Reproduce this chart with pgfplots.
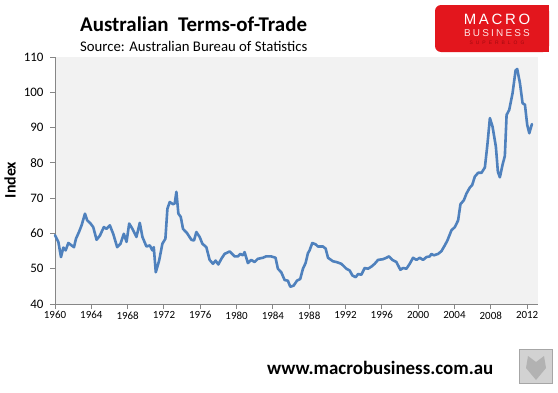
\documentclass[border=0pt]{standalone}
\usepackage{fontspec}
\setmainfont{Carlito}
\newfontfamily\logofont{Liberation Sans}
\usepackage{pgfplots}
\pgfplotsset{compat=1.18}
\definecolor{excelblue}{HTML}{4F81BD}
\definecolor{plotbg}{HTML}{F2F2F2}
\definecolor{axgray}{HTML}{868686}
\definecolor{logored}{HTML}{E3161D}
\definecolor{logodark}{HTML}{A00A0F}

\begin{document}
\begin{tikzpicture}
\path[use as bounding box, fill=white] (0,0) rectangle (558bp,-393bp);

\begin{axis}[
  at={(55bp,-304bp)}, anchor=south west,
  width=483bp, height=247bp, scale only axis,
  xmin=1960, xmax=2013.2, ymin=40, ymax=110,
  axis background/.style={fill=plotbg, draw=none},
  axis x line*=bottom, axis y line*=left,
  axis line style={axgray, line width=0.9bp, -},
  xtick={1960,1964,...,2012}, ytick={40,50,...,110},
  tick style={axgray, line width=0.9bp},
  major tick length=5bp,
  tick align=outside,
  /pgf/number format/1000 sep={},
  /pgf/number format/assume math mode=true,
  x tick label style={font=\fontsize{11}{13}\selectfont, yshift=1bp},
  y tick label style={font=\fontsize{13}{15}\selectfont, xshift=-3bp},
  clip=false,
]
\addplot[excelblue, line width=2.6bp, line join=round, line cap=round] coordinates {
(1960.00,59.5) (1960.37,57.6) (1960.66,53.3) (1960.92,56.0) (1961.17,55.2)
(1961.47,57.3) (1961.83,56.6) (1962.09,56.1) (1962.31,58.5) (1962.64,60.4)
(1962.93,62.3) (1963.30,65.6) (1963.55,63.7) (1963.92,62.8) (1964.21,61.8)
(1964.58,58.2) (1964.95,59.4) (1965.38,61.8) (1965.68,61.3) (1966.04,62.3)
(1966.41,59.9) (1966.85,56.1) (1967.22,57.1) (1967.58,59.9) (1967.88,57.6)
(1968.17,62.8) (1968.53,61.3) (1968.97,59.0) (1969.34,63.0) (1969.63,59.0)
(1970.07,56.3) (1970.44,56.6) (1970.73,55.2) (1970.88,56.1) (1971.10,49.0)
(1971.47,52.3) (1971.83,57.1) (1972.16,58.5) (1972.38,67.0) (1972.64,68.9)
(1973.00,68.3) (1973.19,68.5) (1973.37,71.8) (1973.59,65.6) (1973.85,64.7)
(1974.10,61.3) (1974.54,60.1) (1975.02,58.2) (1975.31,58.0) (1975.57,60.4)
(1975.93,59.0) (1976.23,57.1) (1976.67,56.1) (1977.03,52.5) (1977.40,51.4)
(1977.69,52.3) (1977.99,51.2) (1978.32,52.8) (1978.68,54.2) (1979.23,54.9)
(1979.78,53.5) (1980.15,53.5) (1980.40,54.2) (1980.70,53.8) (1980.88,54.7)
(1981.25,51.6) (1981.61,52.5) (1981.98,51.9) (1982.34,52.8) (1982.89,53.1)
(1983.26,53.5) (1983.81,53.5) (1984.29,53.1) (1984.55,50.0) (1984.92,49.0)
(1985.29,46.8) (1985.65,46.6) (1985.91,44.9) (1986.28,45.2) (1986.65,46.6)
(1987.01,47.1) (1987.31,50.0) (1987.60,51.6) (1987.86,54.4) (1988.04,55.2)
(1988.34,57.3) (1988.71,56.9) (1988.96,56.3) (1989.51,56.3) (1989.81,55.7)
(1990.07,53.1) (1990.62,52.1) (1990.99,51.9) (1991.54,51.4) (1992.09,50.0)
(1992.46,49.5) (1992.75,48.1) (1993.12,47.6) (1993.38,48.5) (1993.74,48.3)
(1994.11,50.2) (1994.48,50.0) (1994.85,50.6) (1995.21,51.4) (1995.58,52.5)
(1996.13,52.7) (1996.50,53.1) (1996.79,53.5) (1997.16,52.5) (1997.60,51.9)
(1998.04,49.7) (1998.34,50.2) (1998.71,50.0) (1999.07,51.4) (1999.44,53.1)
(1999.81,52.5) (2000.18,53.1) (2000.54,52.5) (2000.91,53.3) (2001.28,53.5)
(2001.46,54.2) (2001.72,53.8) (2002.20,54.2) (2002.57,55.0) (2002.93,56.6)
(2003.22,58.0) (2003.67,60.9) (2004.04,61.8) (2004.40,63.7) (2004.66,68.3)
(2005.03,69.4) (2005.32,71.3) (2005.69,73.0) (2005.95,73.7) (2006.24,76.1)
(2006.61,77.2) (2006.98,77.2) (2007.35,78.7) (2007.64,85.5) (2007.90,92.7)
(2008.19,90.3) (2008.56,84.6) (2008.78,77.5) (2009.00,75.9) (2009.29,79.4)
(2009.55,82.0) (2009.74,93.6) (2010.03,95.0) (2010.40,99.8) (2010.73,106.2)
(2010.91,106.6) (2011.21,102.6) (2011.50,96.9) (2011.76,96.5) (2012.01,90.8)
(2012.24,88.4) (2012.53,91.0)
};
\end{axis}

% Titles
\node[anchor=base west, inner sep=0pt, font=\fontsize{21}{24}\selectfont\bfseries] at (80bp,-31bp) {Australian~ Terms-of-Trade};
\node[anchor=base west, inner sep=0pt, font=\fontsize{14.8}{17}\selectfont] at (80bp,-51.5bp) {Source: Australian Bureau of Statistics};
% y label
\node[rotate=90, inner sep=0pt, font=\fontsize{16}{18}\selectfont\bfseries] at (10bp,-180bp) {Index};

% Logo
\fill[logored, rounded corners=6bp] (435bp,-5bp) rectangle (549bp,-52bp);
\fill[logored] (445bp,-5bp) rectangle (549bp,-52bp);
\node[inner sep=0pt, text=white, font=\logofont\fontsize{15}{16}\selectfont\addfontfeature{LetterSpace=18}] at (497bp,-19.5bp) {MACRO};
\node[inner sep=0pt, text=white!90!red, font=\logofont\fontsize{10}{11}\selectfont\addfontfeature{LetterSpace=22}] at (497bp,-33bp) {BUSINESS};
\node[inner sep=0pt, text=logodark, font=\logofont\fontsize{5}{6}\selectfont\addfontfeature{LetterSpace=60}] at (497bp,-42.5bp) {SUPERBLOG};

% Footer
\node[anchor=base west, inner sep=0pt, font=\fontsize{19}{22}\selectfont\bfseries] at (267bp,-374.5bp) {www.macrobusiness.com.au};
\draw[gray!70, line width=1.2bp, fill=gray!35] (519.5bp,-349.5bp) rectangle (552.5bp,-383.5bp);
\fill[gray!60] (528bp,-356bp) -- (536bp,-362bp) -- (544bp,-356bp) -- (546bp,-368bp) -- (536bp,-380bp) -- (526bp,-368bp) -- cycle;
\end{tikzpicture}
\end{document}
